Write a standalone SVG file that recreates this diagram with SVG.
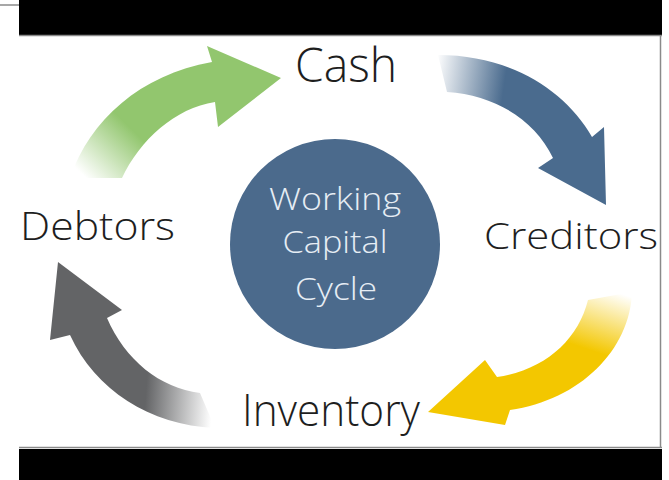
<svg xmlns="http://www.w3.org/2000/svg" width="669" height="480" viewBox="0 0 669 480">
<defs>
<style>
.lbl{font-family:"Open Sans","Noto Sans",sans-serif;fill:#1e1e1e;font-weight:300;}
.ctr{font-family:"Open Sans","Noto Sans",sans-serif;fill:#e6edf4;font-size:32px;text-anchor:middle;font-weight:300;}
.bar{fill:#000;}
.edge{stroke:#8a8a8a;stroke-width:1.5;fill:none;}
</style>
<linearGradient id="gGreen" gradientUnits="userSpaceOnUse" x1="90" y1="182" x2="175" y2="95">
<stop offset="0" stop-color="#92c66e" stop-opacity="0"/>
<stop offset="0.55" stop-color="#92c66e"/>
<stop offset="1" stop-color="#92c66e"/>
</linearGradient>
<linearGradient id="gBlue" gradientUnits="userSpaceOnUse" x1="435" y1="70" x2="505" y2="80">
<stop offset="0" stop-color="#4a6b8e" stop-opacity="0"/>
<stop offset="1" stop-color="#4a6b8e"/>
</linearGradient>
<linearGradient id="gYellow" gradientUnits="userSpaceOnUse" x1="610" y1="290" x2="590" y2="350">
<stop offset="0" stop-color="#f3c700" stop-opacity="0"/>
<stop offset="1" stop-color="#f3c700"/>
</linearGradient>
<linearGradient id="gGray" gradientUnits="userSpaceOnUse" x1="212" y1="410" x2="145" y2="405">
<stop offset="0" stop-color="#636466" stop-opacity="0"/>
<stop offset="1" stop-color="#636466"/>
</linearGradient>
</defs>
<rect width="669" height="480" fill="#fff"/>
<g id="frame">
<rect class="bar" x="19" y="0" width="643" height="35"/>
<rect class="bar" x="19" y="449" width="643" height="31"/>
<line class="edge" x1="19" y1="35.5" x2="662" y2="35.5"/>
<line class="edge" x1="19" y1="447.5" x2="662" y2="447.5"/>
<line class="edge" x1="660.5" y1="36" x2="660.5" y2="447"/>
<line class="edge" x1="0" y1="5" x2="19" y2="5"/>
</g>
<g id="connectors">
<path id="arrow-green" fill="url(#gGreen)" d="M 70,178 C 90,120 140,75 212,62 L 207,46 L 281,78 L 218,127 L 215,102 C 175,108 140,140 122,178 Z"/>
<path id="arrow-blue" fill="url(#gBlue)" d="M 438,55 C 510,55 565,90 592,137 L 604,127 L 606,205 L 538,168 L 553,158 C 535,120 495,95 447,92 Z"/>
<path id="arrow-yellow" fill="url(#gYellow)" d="M 632,292 C 630,350 580,400 510,410 L 505,425 L 428,412 L 485,360 L 497,377 C 545,370 578,340 588,300 Z"/>
<path id="arrow-gray" fill="url(#gGray)" d="M 215,428 C 150,425 95,390 70,335 L 50,340 L 58,262 L 122,310 L 107,318 C 125,360 160,388 200,393 Z"/>
</g>
<g id="center">
<circle cx="335" cy="244" r="105" fill="#4b6a8c"/>
<text class="ctr" x="335" y="210" textLength="132" lengthAdjust="spacingAndGlyphs">Working</text>
<text class="ctr" x="335" y="253" textLength="105" lengthAdjust="spacingAndGlyphs">Capital</text>
<text class="ctr" x="336" y="300" textLength="82" lengthAdjust="spacingAndGlyphs">Cycle</text>
</g>
<g id="node-cash"><text class="lbl" x="295" y="82" font-size="47" textLength="102" lengthAdjust="spacingAndGlyphs">Cash</text></g>
<g id="node-creditors"><text class="lbl" x="484" y="249" font-size="37" textLength="174" lengthAdjust="spacingAndGlyphs">Creditors</text></g>
<g id="node-inventory"><text class="lbl" x="242" y="426" font-size="45" textLength="178" lengthAdjust="spacingAndGlyphs">Inventory</text></g>
<g id="node-debtors"><text class="lbl" x="20" y="240" font-size="39" textLength="155" lengthAdjust="spacingAndGlyphs">Debtors</text></g>
</svg>
